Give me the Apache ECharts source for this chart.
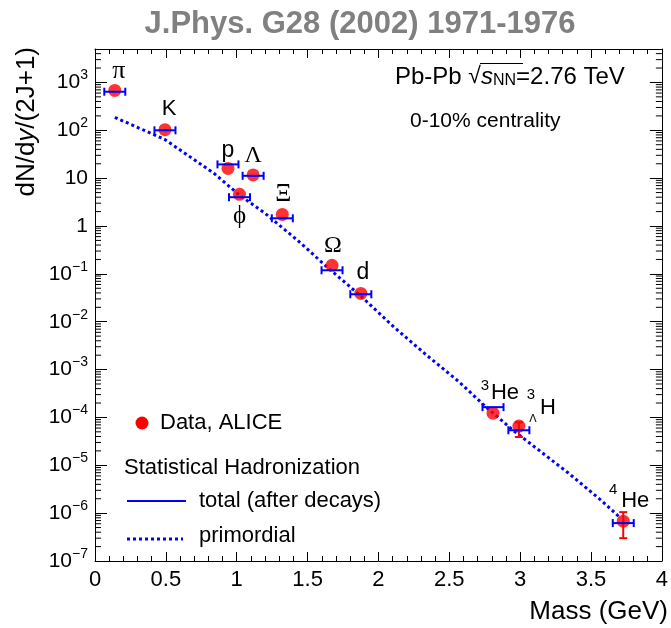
<!DOCTYPE html>
<html><head><meta charset="utf-8">
<script src="https://cdn.jsdelivr.net/npm/echarts@6/dist/echarts.min.js"></script>
<style>html,body{margin:0;padding:0;background:#fff}#c{width:671px;height:628px}</style>
</head><body><div id="c"></div>
<script>
// ---------------- data ----------------
const particles = ['pi', 'K', 'p', 'phi', 'Lambda', 'Xi', 'Omega', 'd', 'He3', 'H3L', 'He4'];
const masses = [0.1396, 0.4937, 0.9383, 1.0195, 1.1157, 1.3217, 1.6725, 1.8756, 2.8084, 2.9910, 3.7274];
const dataYield = [680, 103, 16, 4.6, 11.7, 1.75, 0.151, 0.039, 1.23e-4, 6.6e-5, 6.8e-7];
const dataErrLow = [null, null, null, null, null, null, null, null, null, 3.9e-5, 3.0e-7];
const dataErrHigh = [null, null, null, null, null, null, null, null, null, 7.9e-5, 1.05e-6];
const modelTotal = [640, 100, 19.4, 4.0, 11.2, 1.45, 0.119, 0.0375, 1.64e-4, 5.4e-5, 6.2e-7];
const primordialMass = [0.14, 0.49, 0.84, 1.02, 1.20, 1.43, 1.64, 1.87, 2.11, 2.34, 2.57, 2.76, 2.95, 3.34, 3.57, 3.70];
const primordialYield = [186, 65, 12.6, 4.4, 1.84, 0.50, 0.137, 0.0357, 7.7e-3, 2.0e-3, 5.5e-4, 1.64e-4, 5.4e-5, 6.9e-6, 1.87e-6, 8.3e-7];
const xTicks = [0, 0.5, 1, 1.5, 2, 2.5, 3, 3.5, 4];
const yDecades = [-7, -6, -5, -4, -3, -2, -1, 0, 1, 2, 3];

// ---------------- styles ----------------
const SANS = '"Liberation Sans", Arial, Helvetica, sans-serif';
const SERIF = '"Liberation Serif", "DejaVu Serif", "Times New Roman", serif';
const RED = '#ff0000', BLUE = '#0000ff';
// label pieces: [text, dx, dy, family, size]
const labelStyle = {
  pi: [['π', 4, -19, SERIF, 26]],
  K: [['K', 4, -21, SANS, 22]],
  p: [['p', 0, -18, SANS, 23]],
  phi: [['\u03D5', 0, 22, SERIF, 25]],
  Lambda: [['Λ', 0, -19, SERIF, 24]],
  Xi: [['Ξ', 1, -20, SERIF, 25]],
  Omega: [['Ω', 1, -20, SERIF, 24]],
  d: [['d', 2, -21, SANS, 23]],
  He3: [['3', -8, -27, SANS, 15], ['He', 12, -20, SANS, 22]],
  H3L: [['3', 12, -31, SANS, 15], ['Λ', 14, -7, SANS, 11], ['H', 29, -18, SANS, 22]],
  He4: [['4', -10, -31, SANS, 15], ['He', 12, -20, SANS, 22]]
};

const yMinor = [];
yDecades.forEach(e => { for (let k = 2; k <= 9; k++) { const v = k * Math.pow(10, e); if (v < 5000) yMinor.push(v); } });

function yLabel(v) {
  const e = Math.log10(v), r = Math.round(e);
  if (Math.abs(e - r) > 1e-6 || r > 3) return '';
  if (r === 0) return '1';
  if (r === 1) return '10';
  return '{b|10}{s|' + (r < 0 ? '\u2212' + (-r) : r) + '}';
}

const chart = echarts.init(document.getElementById('c'), null, {renderer: 'canvas'});

const xAxisBase = {
  type: 'value', min: 0, max: 4, interval: 0.5,
  axisLine: {show: true, onZero: false, lineStyle: {color: '#000', width: 1}},
  axisTick: {show: true, inside: true, length: 9, lineStyle: {color: '#000'}},
  minorTick: {show: true, splitNumber: 5, length: 5, lineStyle: {color: '#000'}},
  splitLine: {show: false}, minorSplitLine: {show: false}
};
const yAxisBase = {
  type: 'log', logBase: 10, min: 1e-7, max: 5000, interval: 1,
  axisLine: {show: true, onZero: false, lineStyle: {color: '#000', width: 1}},
  axisTick: {show: true, inside: true, length: 12, lineStyle: {color: '#000'}},
  splitLine: {show: false}
};

const option = {
  animation: false,
  backgroundColor: '#fff',
  grid: {left: 95, right: 3, top: 49, bottom: 67, containLabel: false},
  xAxis: [
    Object.assign({}, xAxisBase, {position: 'bottom',
      axisLabel: {show: true, margin: 8, fontFamily: SANS, fontSize: 22, color: '#000',
        formatter: v => (xTicks.indexOf(v) >= 0 ? String(v) : '')}}),
    Object.assign({}, xAxisBase, {position: 'top', axisLabel: {show: false}})
  ],
  yAxis: [
    Object.assign({}, yAxisBase, {position: 'left',
      axisLabel: {show: true, margin: 7, formatter: yLabel, fontFamily: SANS, fontSize: 21, color: '#000',
        rich: {b: {fontFamily: SANS, fontSize: 21, lineHeight: 28, color: '#000'},
               s: {fontFamily: SANS, fontSize: 14, lineHeight: 14, verticalAlign: 'top', color: '#000'}}}}),
    Object.assign({}, yAxisBase, {position: 'right', axisLabel: {show: false}})
  ],
  series: [
    { // log minor ticks on both vertical frame sides
      type: 'custom', xAxisIndex: 0, yAxisIndex: 0, data: [[0, 1]], silent: true, clip: false, z: 1,
      renderItem: (params, api) => {
        const cs = params.coordSys, ch = [];
        yMinor.forEach(v => {
          const y = api.coord([0, v])[1];
          ch.push({type: 'line', shape: {x1: cs.x, y1: y, x2: cs.x + 6, y2: y}, style: {stroke: '#000', lineWidth: 1}});
          ch.push({type: 'line', shape: {x1: cs.x + cs.width, y1: y, x2: cs.x + cs.width - 6, y2: y}, style: {stroke: '#000', lineWidth: 1}});
        });
        return {type: 'group', children: ch};
      }
    },
    { // primordial
      type: 'line', xAxisIndex: 0, yAxisIndex: 0, symbol: 'none', z: 2,
      data: primordialMass.map((m, i) => [m, primordialYield[i]]),
      lineStyle: {color: BLUE, width: 3, type: [3, 3]}
    },
    { // data points
      type: 'scatter', xAxisIndex: 0, yAxisIndex: 0, symbol: 'circle', symbolSize: 13, z: 3,
      itemStyle: {color: RED},
      data: masses.map((m, i) => [m, dataYield[i]])
    },
    { // data vertical errors
      type: 'custom', xAxisIndex: 0, yAxisIndex: 0, z: 4,
      data: masses.map((m, i) => [m, dataErrLow[i], dataErrHigh[i]]).filter(d => d[1] != null),
      renderItem: (params, api) => {
        const lo = api.coord([api.value(0), api.value(1)]);
        const hi = api.coord([api.value(0), api.value(2)]);
        const st = {stroke: RED, lineWidth: 2};
        return {type: 'group', children: [
          {type: 'line', shape: {x1: lo[0], y1: lo[1], x2: hi[0], y2: hi[1]}, style: st},
          {type: 'line', shape: {x1: lo[0] - 4, y1: lo[1], x2: lo[0] + 4, y2: lo[1]}, style: st},
          {type: 'line', shape: {x1: hi[0] - 4, y1: hi[1], x2: hi[0] + 4, y2: hi[1]}, style: st}
        ]};
      }
    },
    { // model (total after decays) markers
      type: 'custom', xAxisIndex: 0, yAxisIndex: 0, z: 5,
      data: masses.map((m, i) => [m, modelTotal[i]]),
      renderItem: (params, api) => {
        const p = api.coord([api.value(0), api.value(1)]);
        const w = 10.5, h = 4, st = {stroke: BLUE, lineWidth: 2};
        return {type: 'group', children: [
          {type: 'line', shape: {x1: p[0] - w, y1: p[1], x2: p[0] + w, y2: p[1]}, style: st},
          {type: 'line', shape: {x1: p[0] - w, y1: p[1] - h, x2: p[0] - w, y2: p[1] + h}, style: st},
          {type: 'line', shape: {x1: p[0] + w, y1: p[1] - h, x2: p[0] + w, y2: p[1] + h}, style: st}
        ]};
      }
    },
    { // particle labels
      type: 'custom', xAxisIndex: 0, yAxisIndex: 0, z: 6, clip: false,
      data: masses.map((m, i) => [m, dataYield[i], i]),
      renderItem: (params, api) => {
        const p = api.coord([api.value(0), api.value(1)]);
        const pieces = labelStyle[particles[api.value(2)]];
        return {type: 'group', children: pieces.map(pc => ({
          type: 'text', x: p[0] + pc[1], y: p[1] + pc[2],
          style: {text: pc[0], font: pc[4] + 'px ' + pc[3], fill: '#000', align: 'center', verticalAlign: 'middle'}
        }))};
      }
    }
  ],
  graphic: [
    {type: 'text', x: 360, y: 24, style: {text: 'J.Phys. G28 (2002) 1971-1976', font: 'bold 31px ' + SANS, fill: '#808080', align: 'center', verticalAlign: 'middle'}},
    {type: 'text', x: 27, y: 47, rotation: Math.PI / 2,
      style: {text: 'dN/d{i|y}/(2J+1)', font: '26px ' + SANS, fill: '#000', align: 'right', verticalAlign: 'middle',
        rich: {i: {font: 'italic 26px ' + SANS, fill: '#000'}}}},
    {type: 'text', x: 668, y: 612, style: {text: 'Mass (GeV)', font: '26px ' + SANS, fill: '#000', align: 'right', verticalAlign: 'middle'}},
    {type: 'text', x: 395, y: 77, style: {text: 'Pb-Pb {r|\u221A}{s|s}{n|NN}=2.76 TeV', font: '24px ' + SANS, fill: '#000', align: 'left', verticalAlign: 'middle',
      rich: {r: {font: '23px ' + SANS, fill: '#000'}, s: {font: 'italic 24px ' + SANS, fill: '#000'},
             n: {font: '16px ' + SANS, fill: '#000', verticalAlign: 'bottom', padding: [8, 0, 0, 0]}}}},
    {type: 'line', shape: {x1: 480, y1: 63.5, x2: 523, y2: 63.5}, style: {stroke: '#000', lineWidth: 1}},
    {type: 'text', x: 410, y: 121, style: {text: '0-10% centrality', font: '21px ' + SANS, fill: '#000', align: 'left', verticalAlign: 'middle'}},
    // legend
    {type: 'circle', shape: {cx: 142, cy: 423, r: 6.5}, style: {fill: RED}},
    {type: 'text', x: 160, y: 423, style: {text: 'Data, ALICE', font: '22px ' + SANS, fill: '#000', align: 'left', verticalAlign: 'middle'}},
    {type: 'text', x: 124, y: 468, style: {text: 'Statistical Hadronization', font: '22px ' + SANS, fill: '#000', align: 'left', verticalAlign: 'middle'}},
    {type: 'line', shape: {x1: 127, y1: 501, x2: 186, y2: 501}, style: {stroke: BLUE, lineWidth: 2}},
    {type: 'text', x: 199, y: 501, style: {text: 'total (after decays)', font: '22px ' + SANS, fill: '#000', align: 'left', verticalAlign: 'middle'}},
    {type: 'line', shape: {x1: 127, y1: 539, x2: 183, y2: 539}, style: {stroke: BLUE, lineWidth: 3, lineDash: [3, 3]}},
    {type: 'text', x: 199, y: 536, style: {text: 'primordial', font: '22px ' + SANS, fill: '#000', align: 'left', verticalAlign: 'middle'}}
  ]
};
chart.setOption(option);
</script>
</body></html>
